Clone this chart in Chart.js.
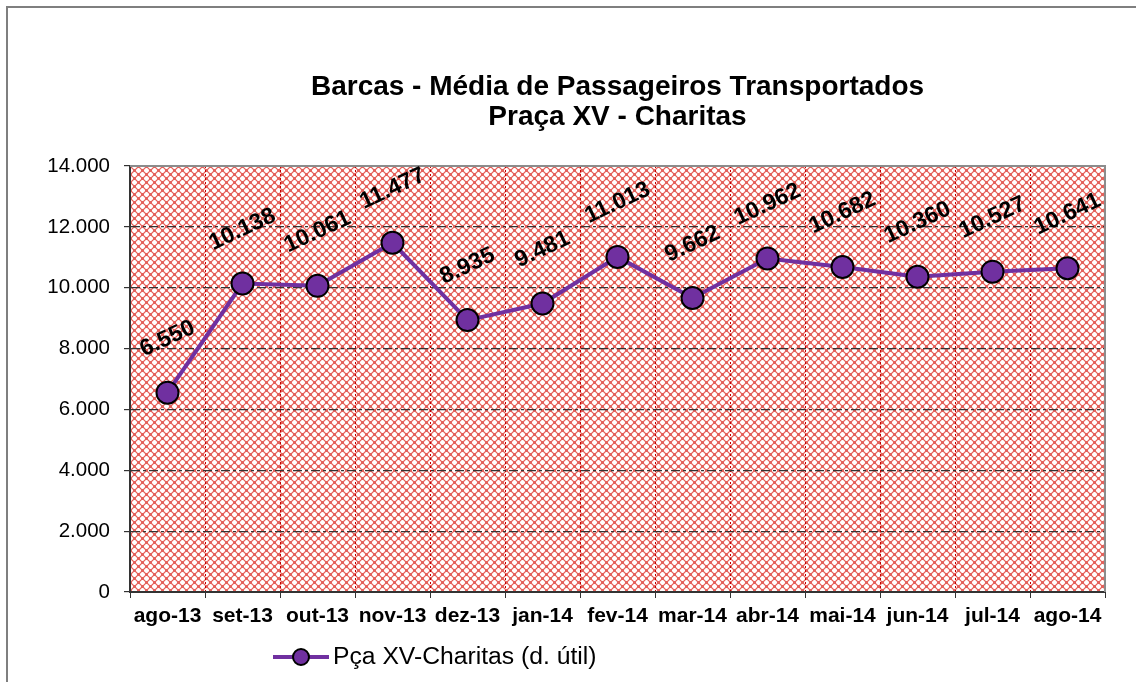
<!DOCTYPE html>
<html>
<head>
<meta charset="utf-8">
<script src="https://cdn.jsdelivr.net/npm/chart.js@4.4.1/dist/chart.umd.min.js"></script>
<style>
    body { margin: 0; background: #fff; }
    canvas { display: block; }
</style>
</head>
<body>
<canvas id="myChart" width="1136" height="682"></canvas>
<script>
const months = ['ago-13', 'set-13', 'out-13', 'nov-13', 'dez-13', 'jan-14', 'fev-14',
    'mar-14', 'abr-14', 'mai-14', 'jun-14', 'jul-14', 'ago-14'];
const passageiros = [6550, 10138, 10061, 11477, 8935, 9481, 11013, 9662, 10962, 10682, 10360, 10527, 10641];
const titleLines = ['Barcas - Média de Passageiros Transportados', 'Praça XV - Charitas'];
const seriesName = 'Pça XV-Charitas (d. útil)';

const FONT = 'Arial, "Liberation Sans", sans-serif';
const PURPLE = '#7030A0';

// dotted thousands: 10138 -> 10.138
function fmt(v) {
    return String(v).replace(/\B(?=(\d{3})+(?!\d))/g, '.');
}

// red mesh with white crosses, like the excel fill
function makePattern(ctx) {
    let tile = document.createElement('canvas');
    tile.width = 8;
    tile.height = 8;
    let t = tile.getContext('2d');
    t.fillStyle = '#e4625c';
    t.fillRect(0, 0, 8, 8);
    let px = (x, y, c) => {
        t.fillStyle = c;
        t.fillRect((x + 8) % 8, (y + 8) % 8, 1, 1);
    };
    [[2, 2], [6, 6]].forEach(([cx, cy]) => {
        for (let dx = -2; dx <= 2; dx++) {
            for (let dy = -2; dy <= 2; dy++) {
                let ax = Math.abs(dx), ay = Math.abs(dy);
                if (ax + ay <= 2) px(cx + dx, cy + dy, '#ffffff');
                else if (ax + ay === 3) px(cx + dx, cy + dy, '#f8c6c2');
            }
        }
    });
    return ctx.createPattern(tile, 'repeat');
}

const decorPlugin = {
    id: 'decor',
    beforeDraw(chart) {
        const {ctx, chartArea: a} = chart;
        ctx.save();
        // outer frame (only top/left visible)
        ctx.strokeStyle = '#7f7f7f';
        ctx.lineWidth = 2;
        ctx.strokeRect(7, 7, chart.width + 20, chart.height + 20);
        // plot background
        ctx.fillStyle = makePattern(ctx);
        ctx.fillRect(a.left, a.top, a.right - a.left, a.bottom - a.top);
        // title
        ctx.fillStyle = '#000';
        ctx.font = 'bold 28px ' + FONT;
        ctx.textAlign = 'center';
        ctx.textBaseline = 'middle';
        let cx = (a.left + a.right) / 2;
        ctx.fillText(titleLines[0], cx, 87);
        ctx.fillText(titleLines[1], cx, 117);
        ctx.restore();
    },
    afterDatasetsDraw(chart) {
        const {ctx, chartArea: a} = chart;
        ctx.save();
        // top and right frame of the plot
        ctx.strokeStyle = '#8c8c8c';
        ctx.lineWidth = 2;
        ctx.beginPath();
        ctx.moveTo(a.left, a.top);
        ctx.lineTo(a.right, a.top);
        ctx.lineTo(a.right, a.bottom);
        ctx.stroke();

        // value labels, rotated
        let meta = chart.getDatasetMeta(0);
        ctx.fillStyle = '#000';
        ctx.font = 'bold 23px ' + FONT;
        ctx.textAlign = 'center';
        ctx.textBaseline = 'middle';
        meta.data.forEach((pt, i) => {
            ctx.save();
            ctx.translate(pt.x, pt.y - 54);
            ctx.rotate(-25 * Math.PI / 180);
            ctx.fillText(fmt(passageiros[i]), 0, 0);
            ctx.restore();
        });

        // legend
        let ly = 657;
        ctx.strokeStyle = PURPLE;
        ctx.lineWidth = 4;
        ctx.beginPath();
        ctx.moveTo(273, ly);
        ctx.lineTo(329, ly);
        ctx.stroke();
        ctx.beginPath();
        ctx.arc(301, ly, 8, 0, Math.PI * 2);
        ctx.fillStyle = PURPLE;
        ctx.fill();
        ctx.lineWidth = 2;
        ctx.strokeStyle = '#000';
        ctx.stroke();
        ctx.fillStyle = '#000';
        ctx.font = '24.7px ' + FONT;
        ctx.textAlign = 'left';
        ctx.fillText(seriesName, 333, ly);
        ctx.restore();
    }
};

let ctx = document.getElementById('myChart');

let myChart = new Chart(ctx, {
    type: 'line',
    data: {
        labels: months,
        datasets: [{
            label: seriesName,
            data: passageiros,
            borderColor: PURPLE,
            borderWidth: 4,
            tension: 0,
            pointRadius: 11,
            pointHoverRadius: 11,
            pointBackgroundColor: PURPLE,
            pointBorderColor: '#000',
            pointBorderWidth: 2,
        }]
    },
    options: {
        responsive: false,
        animation: false,
        layout: {
            padding: {left: 0, right: 31, top: 166, bottom: 0}
        },
        scales: {
            x: {
                offset: true,
                grid: {
                    offset: true,
                    color: '#c00000',
                    lineWidth: 1,
                    tickColor: '#333',
                    tickLength: 6,
                    tickBorderDash: [],
                },
                border: {
                    display: true,
                    color: '#333',
                    width: 2,
                    dash: [2, 2],
                },
                ticks: {
                    color: '#000',
                    padding: 6,
                    font: {family: FONT, size: 21, weight: 'bold'},
                    maxRotation: 0,
                },
                afterFit: (scale) => { scale.height = 90; }
            },
            y: {
                min: 0,
                max: 14000,
                grid: {
                    color: '#333',
                    lineWidth: 1.2,
                    tickColor: '#333',
                    tickLength: 6,
                    tickBorderDash: [],
                },
                border: {
                    display: true,
                    color: '#333',
                    width: 2,
                    dash: [9, 3, 3, 3],
                },
                ticks: {
                    stepSize: 2000,
                    color: '#000',
                    padding: 14,
                    font: {family: FONT, size: 20.5},
                    callback: (v) => fmt(v),
                },
                afterFit: (scale) => { scale.width = 130; }
            }
        },
        plugins: {
            legend: {display: false},
            title: {display: false},
            tooltip: {enabled: false}
        }
    },
    plugins: [decorPlugin]
});
</script>
</body>
</html>
